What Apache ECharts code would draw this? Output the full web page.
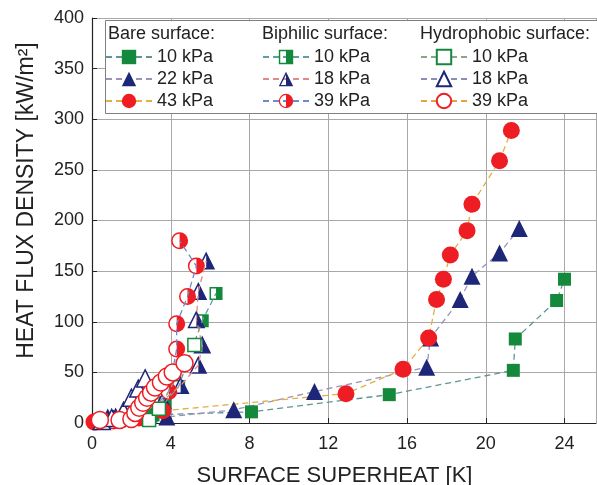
<!DOCTYPE html>
<html><head><meta charset="utf-8">
<script src="https://cdn.jsdelivr.net/npm/echarts@6/dist/echarts.min.js"></script>
<style>html,body{margin:0;padding:0;background:#fff}#c{width:597px;height:485px}</style>
</head><body><div id="c"></div>
<script>
// ---- axis ranges ----
const xMin = 0, xMax = 25.6, xStep = 4;
const yMin = 0, yMax = 400, yStep = 50;
const xTitle = 'SURFACE SUPERHEAT [K]';
const yTitle = 'HEAT FLUX DENSITY [kW/m²]';
const groupHeaders = ['Bare surface:', 'Biphilic surface:', 'Hydrophobic surface:'];

// ---- data: [superheat K, heat flux kW/m2] ----
const bare10 = [[2.9,4],[3.1,8],[8.1,11],[15.1,28],[21.4,52],[21.5,83],[23.6,121],[24.0,142]];
const bare22 = [[0.4,4],[0.8,6],[1.2,7],[1.7,9],[3.8,6],[7.2,13],[11.3,31],[17.0,55],[17.2,84],[18.7,122],[19.3,145],[20.7,168],[21.7,192]];
const bare43 = [[0.1,1],[0.6,2],[1.3,3],[2.4,5],[3.6,12],[12.9,29],[15.8,53],[17.1,84],[17.5,122],[17.85,142],[18.2,166],[19.05,190],[19.3,216],[20.7,259],[21.3,289]];
const biph10 = [[1.4,2],[2.5,4],[3.0,7],[3.7,20],[4.4,36],[5.6,101],[6.3,128]];
const biph18 = [[0.5,2],[1.1,4],[1.8,6],[2.7,12],[3.6,22],[4.5,37],[5.4,57],[5.6,77],[5.3,102],[5.4,130],[5.8,160]];
const biph39 = [[0.2,1],[1.1,2],[2.0,5],[3.0,12],[3.9,31],[4.3,73],[4.3,98],[4.85,125],[5.3,155],[4.45,180]];
const hydr10 = [[2.9,3],[3.4,14],[5.2,77]];
const hydr18 = [[0.5,2],[1.0,5],[1.6,12],[2.0,25],[2.35,34],[2.7,44]];
const hydr39 = [[0.4,3],[1.4,3],[2.0,4],[2.2,10],[2.4,15],[2.6,20],[2.8,25],[3.0,30],[3.2,35],[3.5,40],[3.8,46],[4.1,50],[4.7,59]];

const GREEN = '#14893c', NAVY = '#1d2677', RED = '#ee1d23';
const FONT = '"Liberation Sans", Arial, sans-serif';

const HALF_PATH = {
  rect: 'path://M-10,-10L10,-10L10,10L-10,10Z M-8,-8L-8,8L8,8L8,-8Z M0,-8L8,-8L8,8L0,8Z',
  triangle: 'path://M0,-10L10,10L-10,10Z M0,-6L-7.1,8.2L7.1,8.2Z M0,-6L7.1,8.2L0,8.2Z',
  circle: 'path://M0,-10A10,10,0,1,1,0,10A10,10,0,1,1,0,-10Z M0,-8.3A8.3,8.3,0,1,0,0,8.3A8.3,8.3,0,1,0,0,-8.3Z M0,-8.3A8.3,8.3,0,0,1,0,8.3Z'
};
const SIZE = {rect: 13, triangle: 17, circle: 17};

const defs = [
  {name:'Bare: 10 kPa', data:bare10, shape:'rect', color:GREEN, fill:'full', line:'#5e9696'},
  {name:'Bare: 22 kPa', data:bare22, shape:'triangle', color:NAVY, fill:'full', line:'#9c92bc'},
  {name:'Bare: 43 kPa', data:bare43, shape:'circle', color:RED, fill:'full', line:'#e2b043'},
  {name:'Biphilic: 10 kPa', data:biph10, shape:'rect', color:GREEN, fill:'half', line:'#5f9e9e'},
  {name:'Biphilic: 18 kPa', data:biph18, shape:'triangle', color:NAVY, fill:'half', line:'#e28a8a'},
  {name:'Biphilic: 39 kPa', data:biph39, shape:'circle', color:RED, fill:'half', line:'#6b8ccc'},
  {name:'Hydrophobic: 10 kPa', data:hydr10, shape:'rect', color:GREEN, fill:'open', line:'#86a886'},
  {name:'Hydrophobic: 18 kPa', data:hydr18, shape:'triangle', color:NAVY, fill:'open', line:'#8c8cb8'},
  {name:'Hydrophobic: 39 kPa', data:hydr39, shape:'circle', color:RED, fill:'open', line:'#e6a53c'}
];

function halfRenderer(shape, color, size) {
  return function (params, api) {
    const p = api.coord([api.value(0), api.value(1)]);
    const cx = p[0], cy = p[1], h = size / 2 - 0.75;
    let kids;
    if (shape === 'circle') {
      kids = [
        {type:'circle', shape:{cx, cy, r:h}, style:{fill:'#fff', stroke:color, lineWidth:1.5}},
        {type:'sector', shape:{cx, cy, r0:0, r:h, startAngle:-Math.PI/2, endAngle:Math.PI/2, clockwise:true}, style:{fill:color}}
      ];
    } else if (shape === 'triangle') {
      kids = [
        {type:'polygon', shape:{points:[[cx,cy-h],[cx+h,cy+h],[cx-h,cy+h]]}, style:{fill:'#fff', stroke:color, lineWidth:1.5}},
        {type:'polygon', shape:{points:[[cx,cy-h],[cx+h,cy+h],[cx,cy+h]]}, style:{fill:color}}
      ];
    } else {
      kids = [
        {type:'rect', shape:{x:cx-h, y:cy-h, width:2*h, height:2*h}, style:{fill:'#fff', stroke:color, lineWidth:1.5}},
        {type:'rect', shape:{x:cx, y:cy-h, width:h, height:2*h}, style:{fill:color}}
      ];
    }
    return {type:'group', children:kids};
  };
}

const series = [];
defs.forEach(d => {
  const lineStyle = {color:d.line, width:1.3, type:[6,4]};
  if (d.fill === 'half') {
    series.push({
      name:d.name, type:'line', data:d.data, showSymbol:false,
      symbol:HALF_PATH[d.shape], symbolSize:SIZE[d.shape],
      itemStyle:{color:d.color}, lineStyle, silent:true
    });
    series.push({
      type:'custom', data:d.data, renderItem:halfRenderer(d.shape, d.color, SIZE[d.shape]), silent:true
    });
  } else {
    const open = d.fill === 'open';
    series.push({
      name:d.name, type:'line', data:d.data, symbol:d.shape, symbolSize:SIZE[d.shape],
      itemStyle: open ? {color:'#fff', borderColor:d.color, borderWidth:1.5} : {color:d.color, borderWidth:0},
      lineStyle, silent:true
    });
  }
});

const legendCols = [105, 262, 420];
const legends = [0,1,2].map(i => ({
  data: defs.slice(i*3, i*3+3).map(d => d.name),
  left: legendCols[i], top: 48, orient:'vertical', padding:0,
  itemWidth: 46, itemHeight: 18, itemGap: 4, selectedMode:false,
  formatter: n => n.split(': ')[1],
  textStyle:{fontSize:18, color:'#222', fontFamily:FONT}
}));

const chart = echarts.init(document.getElementById('c'), null, {renderer:'canvas'});
chart.setOption({
  animation:false,
  backgroundColor:'#fff',
  textStyle:{fontFamily:FONT},
  grid:{left:92, right:1, top:18, bottom:62, containLabel:false, outerBoundsMode:'none'},
  xAxis:{
    type:'value', min:xMin, max:xMax, interval:xStep,
    name:xTitle, nameLocation:'middle', nameGap:42,
    nameTextStyle:{fontSize:22, color:'#222', fontFamily:FONT, padding:[0,19,0,0]},
    axisLine:{show:true, onZero:false, lineStyle:{color:'#222', width:1.2}},
    axisTick:{show:true, inside:true, length:5, lineStyle:{color:'#222'}},
    axisLabel:{fontSize:18, color:'#222', margin:12, showMaxLabel:false,
      formatter: v => (v % xStep === 0 ? String(v) : '')},
    splitLine:{show:true, lineStyle:{color:'#a8a8a8', width:1}}
  },
  yAxis:{
    type:'value', min:yMin, max:yMax, interval:yStep,
    name:yTitle, nameLocation:'middle', nameGap:54, nameRotate:90,
    nameTextStyle:{fontSize:23, color:'#222', fontFamily:FONT, padding:[0,0,0,40]},
    axisLine:{show:true, lineStyle:{color:'#222', width:1.2}},
    axisTick:{show:true, inside:true, length:5, lineStyle:{color:'#222'}},
    axisLabel:{fontSize:18, color:'#222', margin:8},
    splitLine:{show:true, lineStyle:{color:'#a8a8a8', width:1}}
  },
  legend: legends,
  graphic:[
    {type:'rect', z:3, shape:{x:105.5, y:20.5, width:500, height:93}, style:{fill:'#fff', stroke:'#808080', lineWidth:1}},
    {type:'text', z:5, left:108, top:25, style:{text:groupHeaders[0], fontSize:18, fill:'#222', font:'18px ' + FONT}},
    {type:'text', z:5, left:262, top:25, style:{text:groupHeaders[1], fontSize:18, fill:'#222', font:'18px ' + FONT}},
    {type:'text', z:5, left:420, top:25, style:{text:groupHeaders[2], fontSize:18, fill:'#222', font:'18px ' + FONT}}
  ],
  series
});
</script></body></html>
